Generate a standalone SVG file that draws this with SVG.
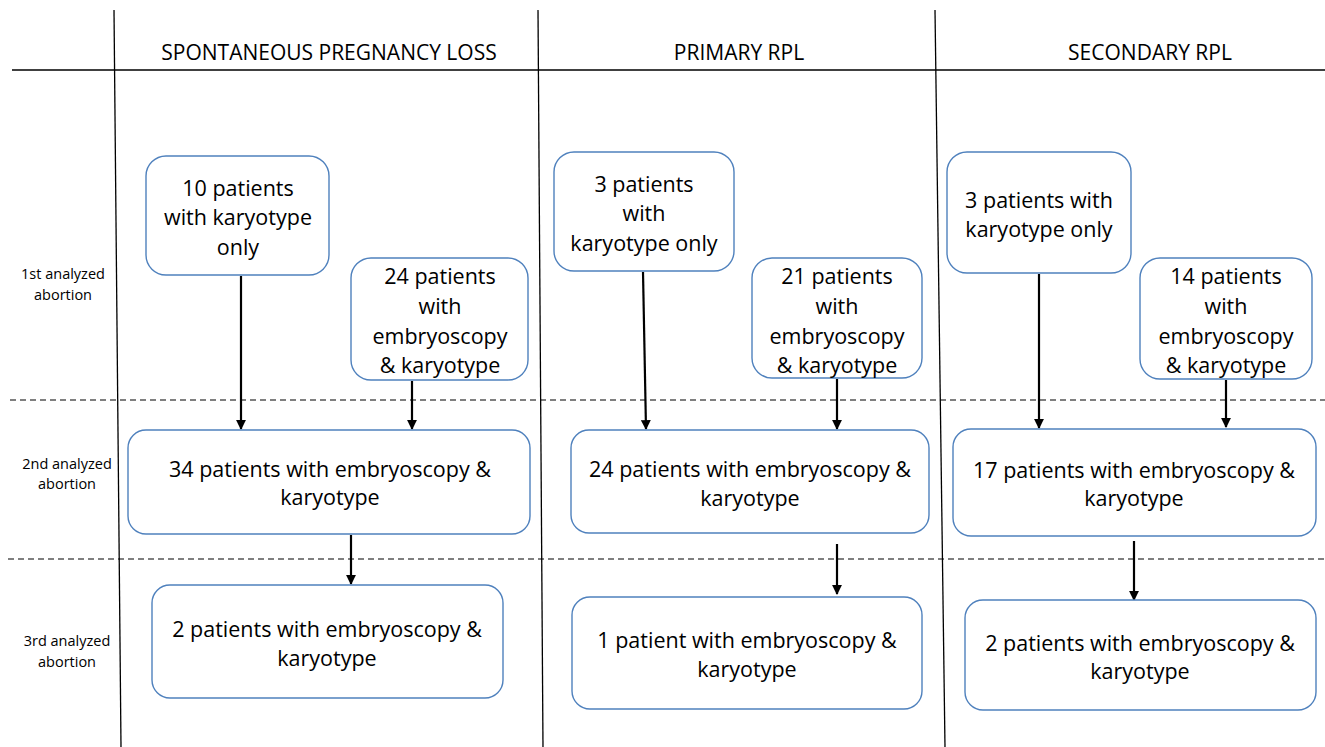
<svg xmlns="http://www.w3.org/2000/svg" width="1325" height="747" viewBox="0 0 1325 747">
<style>
  .box { fill: #ffffff; stroke: #4f81bd; stroke-width: 1.4; }
  .t { font-family: "Open Sans", "Liberation Sans", sans-serif; font-size: 21.5px; fill: #000; text-anchor: middle; dominant-baseline: central; }
  .h { font-family: "Open Sans", "Liberation Sans", sans-serif; font-size: 21px; fill: #000; text-anchor: middle; dominant-baseline: central; }
  .s { font-family: "Open Sans", "Liberation Sans", sans-serif; font-size: 14.5px; fill: #000; text-anchor: middle; dominant-baseline: central; }
  .grid { stroke: #000; stroke-width: 1.3; fill: none; }
  .dash { stroke: #000; stroke-width: 1.2; stroke-dasharray: 6 4; fill: none; }
  .arr { stroke: #000; stroke-width: 2.2; fill: none; marker-end: url(#ah); }
</style>
<defs>
  <marker id="ah" viewBox="0 0 10 10" refX="9" refY="5" markerWidth="4.5" markerHeight="4.5" orient="auto" markerUnits="strokeWidth">
    <path d="M0,0 L10,5 L0,10 z" fill="#000"/>
  </marker>
</defs>
<rect width="1325" height="747" fill="#ffffff"/>
<g id="grid">
  <line class="grid" x1="114" y1="10" x2="121" y2="747"/>
  <line class="grid" x1="538" y1="10" x2="543" y2="747"/>
  <line class="grid" x1="935" y1="10" x2="945" y2="747"/>
  <line class="grid" x1="12" y1="70" x2="1325" y2="70"/>
  <line class="dash" x1="10" y1="400" x2="1325" y2="400"/>
  <line class="dash" x1="8" y1="559" x2="1325" y2="559"/>
</g>
<g id="headers">
  <text class="h" x="329" y="52">SPONTANEOUS PREGNANCY LOSS</text>
  <text class="h" x="739" y="52">PRIMARY RPL</text>
  <text class="h" x="1150" y="52">SECONDARY RPL</text>
  <text class="s" x="63" y="273">1st analyzed</text>
  <text class="s" x="63" y="294">abortion</text>
  <text class="s" x="67" y="463">2nd analyzed</text>
  <text class="s" x="67" y="483">abortion</text>
  <text class="s" x="67" y="640">3rd analyzed</text>
  <text class="s" x="67" y="661">abortion</text>
</g>
<g id="connectors">
  <line class="arr" x1="241" y1="276" x2="241" y2="429"/>
  <line class="arr" x1="412" y1="381" x2="412" y2="429"/>
  <line class="arr" x1="351" y1="535" x2="351" y2="584"/>
  <line class="arr" x1="643" y1="272" x2="646" y2="429"/>
  <line class="arr" x1="837" y1="379" x2="837" y2="429"/>
  <line class="arr" x1="837" y1="544" x2="837" y2="594"/>
  <line class="arr" x1="1039" y1="274" x2="1039" y2="428"/>
  <line class="arr" x1="1226" y1="380" x2="1226" y2="427"/>
  <line class="arr" x1="1134" y1="541" x2="1134" y2="600"/>
</g>
<g id="a1">
  <rect class="box" x="146" y="156" width="183" height="119" rx="20"/>
  <text class="t" x="238" y="187">10 patients</text>
  <text class="t" x="238" y="216">with karyotype</text>
  <text class="t" x="238" y="246">only</text>
</g>
<g id="a2">
  <rect class="box" x="351" y="258" width="177" height="122" rx="20"/>
  <text class="t" x="440" y="275">24 patients</text>
  <text class="t" x="440" y="305">with</text>
  <text class="t" x="440" y="335">embryoscopy</text>
  <text class="t" x="440" y="364">&amp; karyotype</text>
</g>
<g id="a3">
  <rect class="box" x="128" y="430" width="402" height="104" rx="18"/>
  <text class="t" x="330" y="468">34 patients with embryoscopy &amp;</text>
  <text class="t" x="330" y="496">karyotype</text>
</g>
<g id="a4">
  <rect class="box" x="152" y="585" width="351" height="113" rx="18"/>
  <text class="t" x="327" y="628">2 patients with embryoscopy &amp;</text>
  <text class="t" x="327" y="657">karyotype</text>
</g>
<g id="b1">
  <rect class="box" x="554" y="152" width="180" height="119" rx="20"/>
  <text class="t" x="644" y="183">3 patients</text>
  <text class="t" x="644" y="212">with</text>
  <text class="t" x="644" y="242">karyotype only</text>
</g>
<g id="b2">
  <rect class="box" x="752" y="258" width="170" height="120" rx="20"/>
  <text class="t" x="837" y="275">21 patients</text>
  <text class="t" x="837" y="305">with</text>
  <text class="t" x="837" y="335">embryoscopy</text>
  <text class="t" x="837" y="364">&amp; karyotype</text>
</g>
<g id="b3">
  <rect class="box" x="571" y="430" width="358" height="103" rx="18"/>
  <text class="t" x="750" y="468">24 patients with embryoscopy &amp;</text>
  <text class="t" x="750" y="497">karyotype</text>
</g>
<g id="b4">
  <rect class="box" x="572" y="597" width="350" height="112" rx="18"/>
  <text class="t" x="747" y="639">1 patient with embryoscopy &amp;</text>
  <text class="t" x="747" y="668">karyotype</text>
</g>
<g id="c1">
  <rect class="box" x="947" y="152" width="184" height="121" rx="20"/>
  <text class="t" x="1039" y="199">3 patients with</text>
  <text class="t" x="1039" y="228">karyotype only</text>
</g>
<g id="c2">
  <rect class="box" x="1140" y="258" width="172" height="121" rx="20"/>
  <text class="t" x="1226" y="275">14 patients</text>
  <text class="t" x="1226" y="305">with</text>
  <text class="t" x="1226" y="335">embryoscopy</text>
  <text class="t" x="1226" y="364">&amp; karyotype</text>
</g>
<g id="c3">
  <rect class="box" x="953" y="429" width="363" height="107" rx="18"/>
  <text class="t" x="1134" y="469">17 patients with embryoscopy &amp;</text>
  <text class="t" x="1134" y="497">karyotype</text>
</g>
<g id="c4">
  <rect class="box" x="965" y="600" width="351" height="110" rx="18"/>
  <text class="t" x="1140" y="642">2 patients with embryoscopy &amp;</text>
  <text class="t" x="1140" y="670">karyotype</text>
</g>
</svg>
